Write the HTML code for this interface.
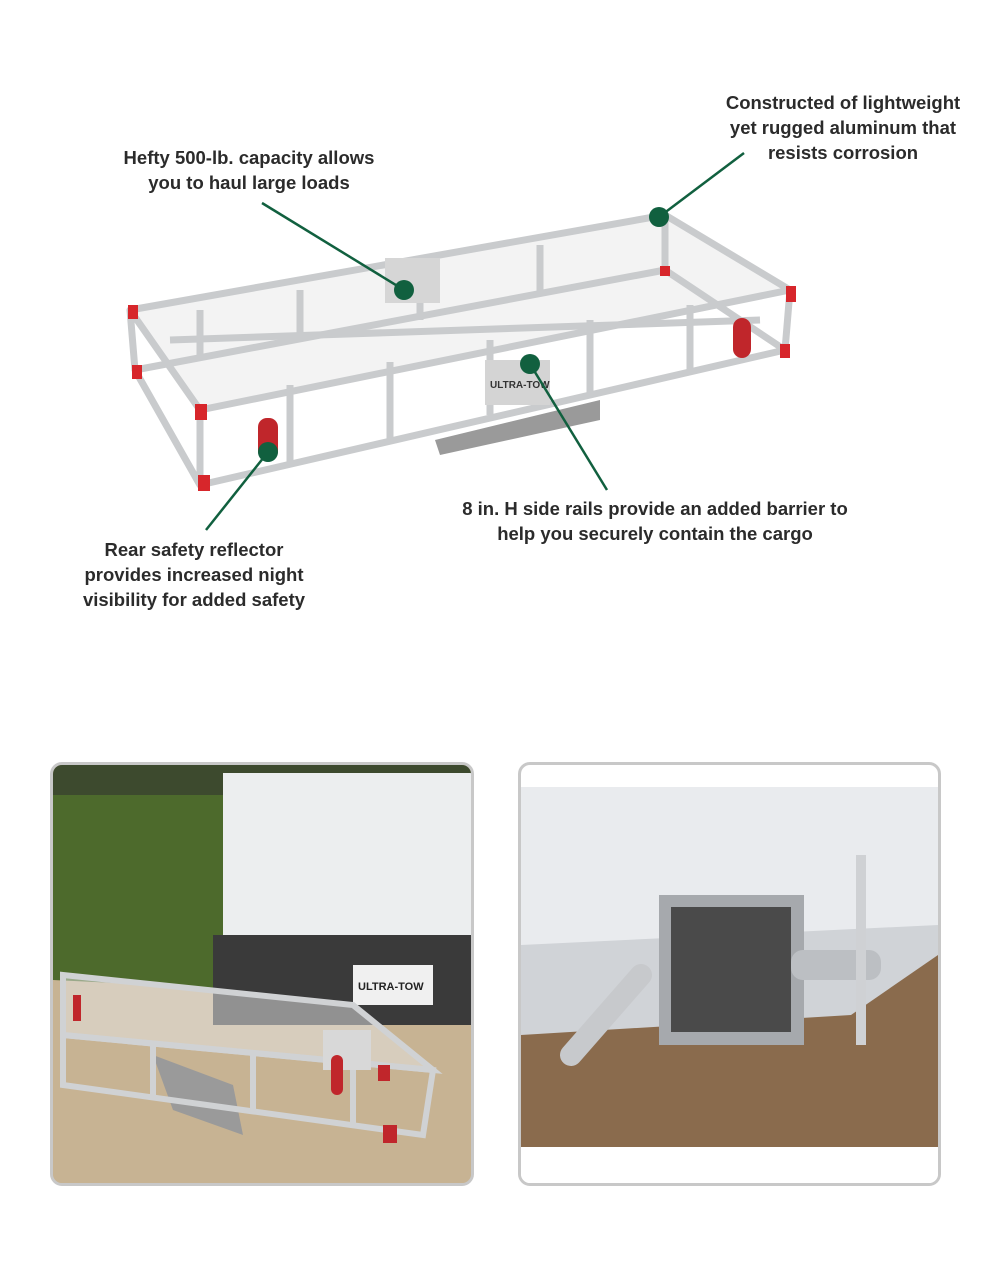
<!DOCTYPE html>
<html><head><meta charset="utf-8"><style>
body{margin:0;background:#fff;width:1000px;height:1274px;position:relative;overflow:hidden;font-family:"Liberation Sans",sans-serif}
.t{position:absolute;font-weight:bold;color:#2b2b2b;font-size:18.5px;line-height:25px;text-align:center}
.box{position:absolute;border:3px solid #c8c8c8;border-radius:12px;overflow:hidden}
</style></head><body>
<div class="t" style="left:700px;top:90px;width:286px">Constructed of lightweight<br>yet rugged aluminum that<br>resists corrosion</div>
<div class="t" style="left:90px;top:145px;width:318px">Hefty 500-lb. capacity allows<br>you to haul large loads</div>
<div class="t" style="left:430px;top:496px;width:450px">8 in. H side rails provide an added barrier to<br>help you securely contain the cargo</div>
<div class="t" style="left:55px;top:537px;width:278px">Rear safety reflector<br>provides increased night<br>visibility for added safety</div>
<svg width="1000" height="640" style="position:absolute;left:0;top:0">
<g stroke="#c9cbcd" stroke-width="7" fill="none" stroke-linejoin="round">
<polygon points="130,310 665,215 790,290 200,410" fill="#f3f3f3"/>
<polygon points="135,370 665,270 785,350 200,485"/>
<line x1="200" y1="410" x2="200" y2="485"/><line x1="790" y1="290" x2="785" y2="350"/>
<line x1="130" y1="310" x2="135" y2="370"/><line x1="665" y1="215" x2="665" y2="270"/>
<line x1="290" y1="385" x2="290" y2="465"/><line x1="390" y1="362" x2="390" y2="440"/><line x1="490" y1="340" x2="490" y2="415"/><line x1="590" y1="320" x2="590" y2="393"/><line x1="690" y1="305" x2="690" y2="372"/>
<line x1="200" y1="310" x2="200" y2="360"/><line x1="300" y1="290" x2="300" y2="340"/><line x1="420" y1="268" x2="420" y2="320"/><line x1="540" y1="245" x2="540" y2="295"/>
<line x1="170" y1="340" x2="760" y2="320"/>
</g>
<rect x="385" y="258" width="55" height="45" fill="#d6d6d6"/>
<rect x="485" y="360" width="65" height="45" fill="#d4d4d4"/>
<text x="490" y="388" font-size="10" font-weight="bold" fill="#333" font-family="Liberation Sans">ULTRA-TOW</text>
<polygon points="435,440 600,400 600,420 440,455" fill="#9a9a9a"/>
<rect x="258" y="418" width="20" height="42" rx="9" fill="#c0262b"/>
<rect x="733" y="318" width="18" height="40" rx="9" fill="#c0262b"/>
<g fill="#d7262b"><rect x="128" y="305" width="10" height="14"/><rect x="132" y="365" width="10" height="14"/><rect x="195" y="404" width="12" height="16"/><rect x="198" y="475" width="12" height="16"/><rect x="786" y="286" width="10" height="16"/><rect x="780" y="344" width="10" height="14"/><rect x="660" y="266" width="10" height="10"/></g>
<g stroke="#11603f" stroke-width="2.5"><line x1="744" y1="153" x2="659" y2="217"/><line x1="262" y1="203" x2="404" y2="290"/><line x1="530" y1="364" x2="607" y2="490"/><line x1="268" y1="452" x2="206" y2="530"/></g>
<g fill="#11603f"><circle cx="659" cy="217" r="10"/><circle cx="404" cy="290" r="10"/><circle cx="530" cy="364" r="10"/><circle cx="268" cy="452" r="10"/></g>
</svg>
<div class="box" style="left:50px;top:762px;width:418px;height:418px;background:#c9b597">
<svg width="418" height="418">
<rect width="418" height="40" fill="#3d4a2e"/>
<rect y="30" width="418" height="200" fill="#4d6a2c"/>
<polygon points="0,215 418,235 418,418 0,418" fill="#c7b393"/>
<rect x="170" y="8" width="250" height="200" fill="#eceeef"/>
<rect x="160" y="170" width="260" height="90" fill="#3a3a3a"/>
<rect x="300" y="200" width="80" height="40" fill="#f0f0f0"/>
<text x="305" y="225" font-size="11" font-weight="bold" font-family="Liberation Sans" fill="#222">ULTRA-TOW</text>
<polygon points="100,290 180,320 190,370 120,345" fill="#9a9a9a"/>
<g stroke="#d0d2d4" stroke-width="6" fill="none"><polygon points="10,210 300,240 380,305 10,270" fill="#e8e8e8" fill-opacity=".5"/><polygon points="10,270 380,305 370,370 10,320"/><line x1="100" y1="280" x2="100" y2="330"/><line x1="200" y1="290" x2="200" y2="345"/><line x1="300" y1="300" x2="300" y2="360"/></g>
<rect x="270" y="265" width="48" height="40" fill="#d8d8d8"/>
<rect x="20" y="230" width="8" height="26" fill="#c0262b"/><rect x="278" y="290" width="12" height="40" rx="6" fill="#c0262b"/><rect x="325" y="300" width="12" height="16" fill="#c0262b"/><rect x="330" y="360" width="14" height="18" fill="#c0262b"/>
</svg></div>
<div class="box" style="left:518px;top:762px;width:417px;height:418px;background:#fff">
<svg width="417" height="418">
<rect y="22" width="417" height="360" fill="#8a6b4d"/>
<polygon points="0,22 417,22 417,180 330,240 0,260" fill="#e9ebee"/>
<polygon points="0,180 417,160 417,190 330,250 0,270" fill="#d0d3d7"/>
<rect x="138" y="130" width="145" height="150" fill="#a6a9ad"/>
<rect x="150" y="142" width="120" height="125" fill="#4a4a4a"/>
<rect x="270" y="185" width="90" height="30" rx="12" fill="#bcbfc3"/>
<line x1="50" y1="290" x2="120" y2="210" stroke="#c7c9cc" stroke-width="22" stroke-linecap="round"/>
<rect x="335" y="90" width="10" height="190" fill="#cfd1d4"/>
<rect y="382" width="417" height="40" fill="#fff"/>
</svg></div>
</body></html>
